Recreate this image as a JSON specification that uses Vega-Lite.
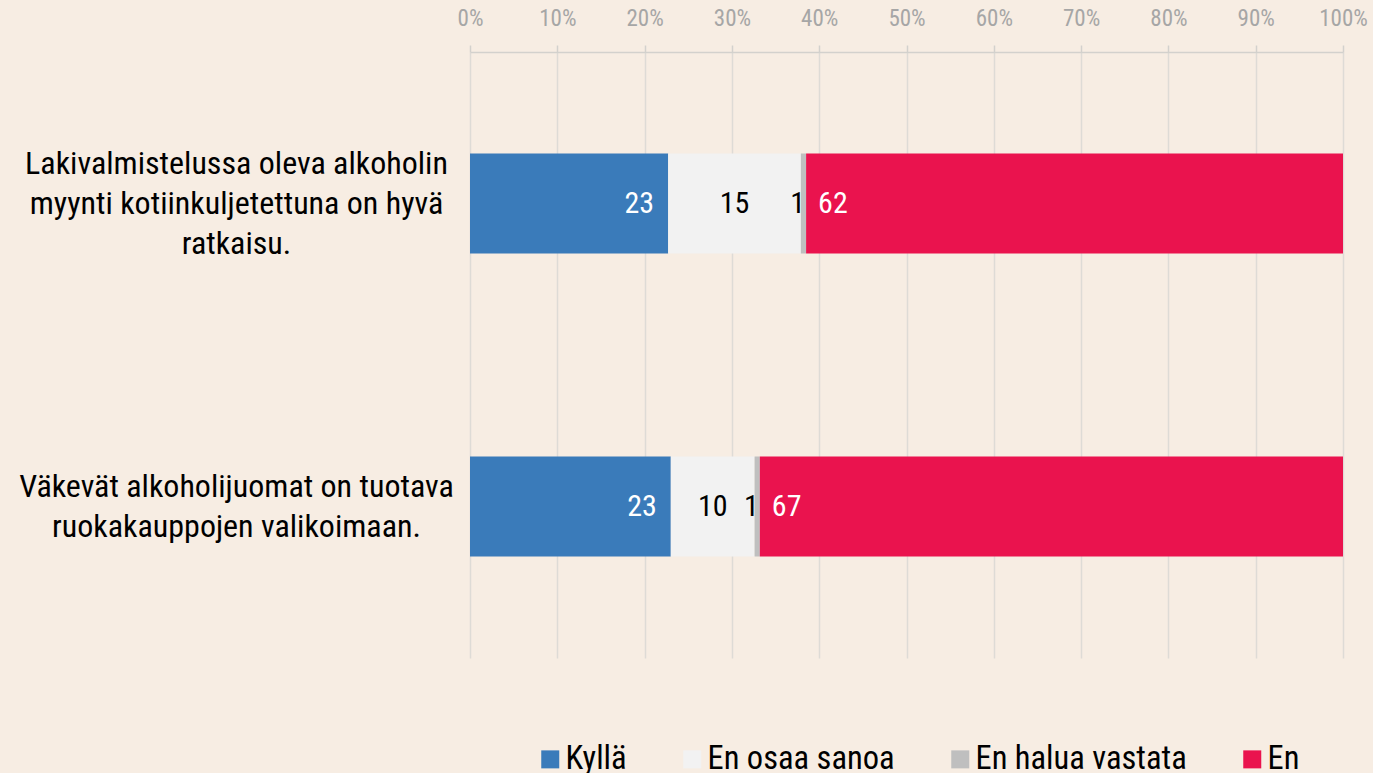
{
  "$schema": "https://vega.github.io/schema/vega-lite/v6.json",
  "autosize": "none",
  "width": 873,
  "height": 606,
  "padding": {"left": 470, "top": 52, "right": 30, "bottom": 115},
  "background": "#F7EDE3",
  "config": {
    "view": {"stroke": null},
    "font": "Roboto Condensed, Liberation Sans Narrow, Arial Narrow, DejaVu Sans Condensed, sans-serif"
  },
  "data": {
    "values": [
      {"q": "Lakivalmistelussa oleva alkoholin|myynti kotiinkuljetettuna on hyvä|ratkaisu.", "qi": 1, "vastaus": "Kyllä", "order": 1, "value": 22.7},
      {"q": "Lakivalmistelussa oleva alkoholin|myynti kotiinkuljetettuna on hyvä|ratkaisu.", "qi": 1, "vastaus": "En osaa sanoa", "order": 2, "value": 15.2},
      {"q": "Lakivalmistelussa oleva alkoholin|myynti kotiinkuljetettuna on hyvä|ratkaisu.", "qi": 1, "vastaus": "En halua vastata", "order": 3, "value": 0.6},
      {"q": "Lakivalmistelussa oleva alkoholin|myynti kotiinkuljetettuna on hyvä|ratkaisu.", "qi": 1, "vastaus": "En", "order": 4, "value": 61.5},
      {"q": "Väkevät alkoholijuomat on tuotava|ruokakauppojen valikoimaan.", "qi": 2, "vastaus": "Kyllä", "order": 1, "value": 23.0},
      {"q": "Väkevät alkoholijuomat on tuotava|ruokakauppojen valikoimaan.", "qi": 2, "vastaus": "En osaa sanoa", "order": 2, "value": 9.6},
      {"q": "Väkevät alkoholijuomat on tuotava|ruokakauppojen valikoimaan.", "qi": 2, "vastaus": "En halua vastata", "order": 3, "value": 0.6},
      {"q": "Väkevät alkoholijuomat on tuotava|ruokakauppojen valikoimaan.", "qi": 2, "vastaus": "En", "order": 4, "value": 66.8}
    ]
  },
  "transform": [
    {"stack": "value", "groupby": ["q"], "sort": [{"field": "order"}], "offset": "normalize", "as": ["x0", "x1"]},
    {"calculate": "(datum.x0 + datum.x1) / 2", "as": "xm"}
  ],
  "encoding": {
    "y": {
      "field": "q", "type": "nominal", "sort": null, "title": null,
      "scale": {"paddingInner": 0.67, "paddingOuter": 0.335},
      "axis": {
        "labelExpr": "split(datum.label, '|')",
        "labelAlign": "center", "labelBaseline": "middle",
        "labelOffset": {"condition": {"test": "length(split(datum.value, '|')) === 3", "value": -40}, "value": -20},
        "labelPadding": 234, "ticks": false, "domain": false,
        "labelFontSize": 32, "labelLineHeight": 40, "labelColor": "#000000",
        "labelLimit": 0
      }
    }
  },
  "layer": [
    {
      "mark": {"type": "bar"},
      "encoding": {
        "x": {
          "field": "x0", "type": "quantitative", "title": null,
          "scale": {"domain": [0, 1], "nice": false},
          "axis": {
            "orient": "top", "format": ".0%", "values": [0, 0.1, 0.2, 0.3, 0.4, 0.5, 0.6, 0.7, 0.8, 0.9, 1],
            "labelFontSize": 23, "labelColor": "#A6A6A6", "labelPadding": 15, "labelFlush": false,
            "tickSize": 7, "tickColor": "#D3D1CD", "domainColor": "#D3D1CD", "domainWidth": 1.5, "tickWidth": 1.5,
            "grid": true, "gridColor": "#DEDBD6", "gridWidth": 1.5
          }
        },
        "x2": {"field": "x1"},
        "color": {
          "field": "vastaus", "type": "nominal", "title": null,
          "scale": {"domain": ["Kyllä", "En osaa sanoa", "En halua vastata", "En"], "range": ["#3A7BBA", "#F2F2F2", "#BFBFBF", "#EA134E"]},
          "legend": {
            "orient": "none", "legendX": 64, "legendY": 691, "direction": "horizontal",
            "symbolType": "square", "symbolSize": 324, "symbolStrokeWidth": 0,
            "labelFontSize": 32.5, "labelColor": "#000000", "labelOffset": -1, "columnPadding": 49, "labelLimit": 0
          }
        },
        "order": {"field": "order"}
      }
    },
    {
      "transform": [{"filter": "datum.vastaus === 'Kyllä'"}],
      "mark": {"type": "text", "align": "right", "baseline": "middle", "dx": -14, "fontSize": 30, "color": "#FFFFFF"},
      "encoding": {"x": {"field": "x1", "type": "quantitative"}, "text": {"field": "value", "format": ".0f"}}
    },
    {
      "transform": [{"filter": "datum.vastaus === 'En osaa sanoa'"}],
      "mark": {"type": "text", "align": "center", "baseline": "middle", "fontSize": 30, "color": "#000000"},
      "encoding": {"x": {"field": "xm", "type": "quantitative"}, "text": {"field": "value", "format": ".0f"}}
    },
    {
      "transform": [{"filter": "datum.vastaus === 'En halua vastata'"}],
      "mark": {"type": "text", "align": "right", "baseline": "middle", "dx": -1, "fontSize": 30, "color": "#000000"},
      "encoding": {"x": {"field": "x1", "type": "quantitative"}, "text": {"field": "value", "format": ".0f"}}
    },
    {
      "transform": [{"filter": "datum.vastaus === 'En'"}],
      "mark": {"type": "text", "align": "left", "baseline": "middle", "dx": 12, "fontSize": 30, "color": "#FFFFFF"},
      "encoding": {"x": {"field": "x0", "type": "quantitative"}, "text": {"field": "value", "format": ".0f"}}
    }
  ]
}
